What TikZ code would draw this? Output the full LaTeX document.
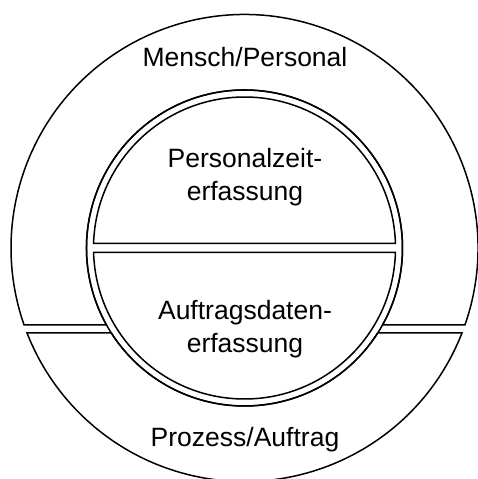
\documentclass[tikz,border=0pt]{standalone}
\usepackage{fontspec}
\setmainfont{Liberation Sans}
\usetikzlibrary{calc}
\begin{document}
\begin{tikzpicture}[x=1pt,y=1pt, line width=1.5pt, line join=miter,
  lbl/.style={font=\fontsize{26.5}{30}\selectfont, anchor=base, inner sep=0pt}]
\useasboundingbox (0,0) rectangle (478,479);
\coordinate (C) at (244.5,231);
\pgfmathsetmacro{\R}{233.5}
\pgfmathsetmacro{\r}{158}
\pgfmathsetmacro{\s}{151}
% outer top region (line at dy=-77)
\pgfmathsetmacro{\aa}{asin(77/\R)}
\pgfmathsetmacro{\ab}{asin(77/\r)}
% outer bottom region (line at dy=-85)
\pgfmathsetmacro{\ac}{asin(85/\R)}
\pgfmathsetmacro{\ad}{asin(85/\r)}
% inner chords at dy=+-4.5
\pgfmathsetmacro{\ae}{asin(4.5/\s)}
\draw ($(C)+(-\aa:\R)$) arc[start angle=-\aa, end angle=180+\aa, radius=\R]
  -- ($(C)+(180+\ab:\r)$) arc[start angle=180+\ab, end angle=-\ab, radius=\r] -- cycle;
\draw ($(C)+(-\ac:\R)$) arc[start angle=-\ac, end angle=-180+\ac, radius=\R]
  -- ($(C)+(-180+\ad:\r)$) arc[start angle=-180+\ad, end angle=-\ad, radius=\r] -- cycle;
\draw (C) circle[radius=\r];
\draw ($(C)+(\ae:\s)$) arc[start angle=\ae, end angle=180-\ae, radius=\s] -- cycle;
\draw ($(C)+(-\ae:\s)$) arc[start angle=-\ae, end angle=-180+\ae, radius=\s] -- cycle;
\node[lbl] (mp) at (245,412) {Mensch/Personal};
\node[lbl] (pz1) at (245,311) {Personalzeit-};
\node[lbl] (pz2) at (245,278) {erfassung};
\node[lbl] (ad1) at (245,159) {Auftragsdaten-};
\node[lbl] (ad2) at (245,126) {erfassung};
\node[lbl] (pa) at (245,32) {Prozess/Auftrag};
\end{tikzpicture}
\end{document}
